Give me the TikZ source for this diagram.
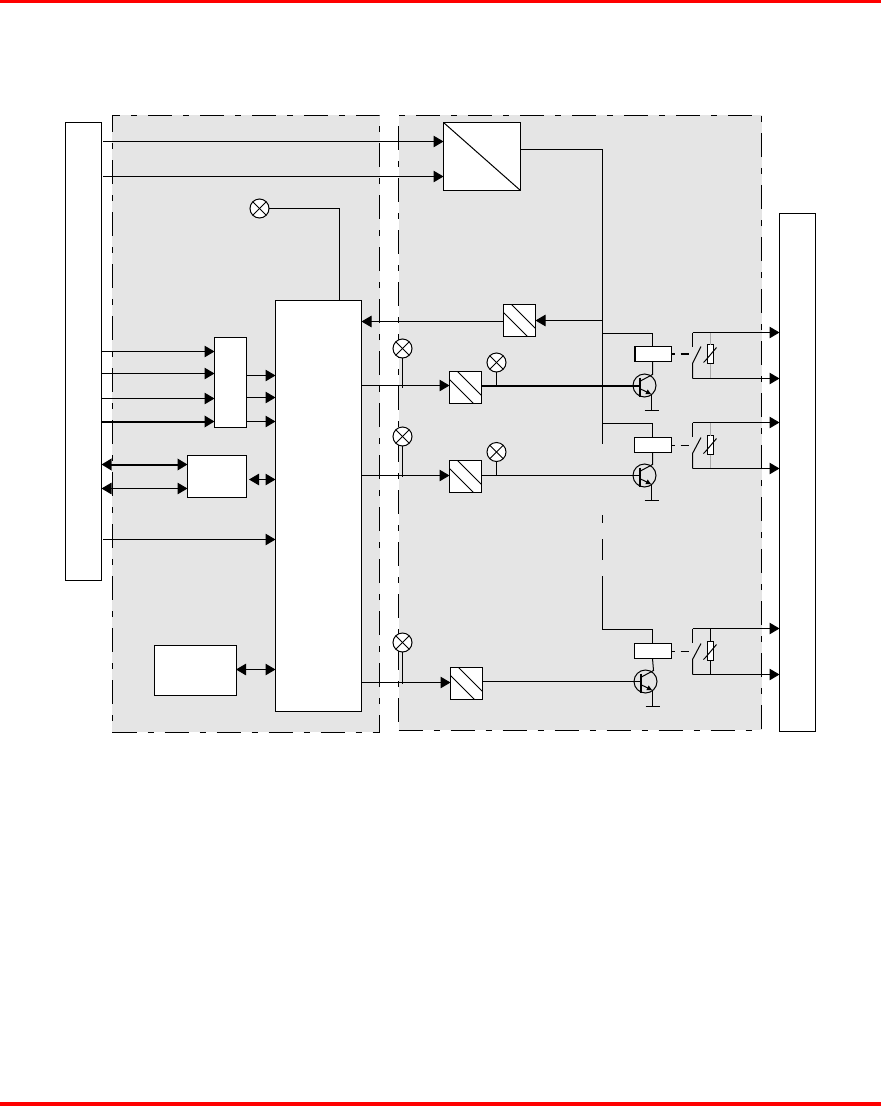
\documentclass[tikz,border=0pt]{standalone}
\usepackage{tikz}
\usetikzlibrary{positioning,arrows.meta,calc}
\definecolor{Band}{RGB}{255,0,0}
\definecolor{Zone}{RGB}{229,229,229}
\definecolor{Tap}{RGB}{170,170,170}

\begin{document}
\begin{tikzpicture}[x=1bp,y=-1bp,line width=1bp,
  zonebox/.style={draw,fill=Zone,inner sep=0pt,outer sep=0pt,dash pattern=on 24bp off 11bp on 6bp off 11bp},
  blockbox/.style={draw,fill=white,inner sep=0pt,outer sep=0pt},
  convbox/.style={blockbox,minimum width=32bp,minimum height=32bp,path picture={
    \draw ([yshift=-8bp]path picture bounding box.north west)--([xshift=-8bp]path picture bounding box.south east);
    \draw ([xshift=8bp]path picture bounding box.north west)--([yshift=8bp]path picture bounding box.south east);}},
  lamp/.style={circle,draw,fill=white,inner sep=0pt,outer sep=0pt,minimum size=19bp,path picture={
    \draw (path picture bounding box.north west)--(path picture bounding box.south east);
    \draw (path picture bounding box.north east)--(path picture bounding box.south west);}},
  arr/.style={-{Triangle[length=10bp,width=11.5bp]}},
  darr/.style={{Triangle[length=10bp,width=11.5bp]}-{Triangle[length=10bp,width=11.5bp]}}]
\useasboundingbox (0,0) rectangle (881,1106);
\fill[Band] (0,0) rectangle (881,3);
\fill[Band] (0,1102) rectangle (881,1106);
\node[zonebox,minimum width=267bp,minimum height=617bp] (zonea) at (246,423.5) {};
\node[zonebox,minimum width=363bp,minimum height=615bp] (zoneb) at (580,422.5) {};
\node[blockbox,minimum width=36bp,minimum height=458bp] (ctrl) at (83.5,351.5) {};
\node[blockbox,minimum width=36bp,minimum height=518bp] (outs) at (797.5,472.5) {};
\node[blockbox,minimum width=77bp,minimum height=68bp,path picture={
  \draw (path picture bounding box.north west)--(path picture bounding box.south east);}] (psu) at (482,156.5) {};
\node[blockbox,minimum width=86bp,minimum height=411bp] (main) at (318.5,506) {};
\node[blockbox,minimum width=32bp,minimum height=90bp] (mux) at (230.5,382.5) {};
\node[blockbox,minimum width=59bp,minimum height=42bp] (iface) at (217,476.5) {};
\node[blockbox,minimum width=81.5bp,minimum height=50bp] (mem) at (195.25,670.5) {};
\node[convbox] (fb) at (519.5,320.5) {};
\node[convbox] (conva) at (465.5,387.5) {};
\node[convbox] (convb) at (465.5,476.5) {};
\node[convbox] (convc) at (466.5,683.5) {};
\node[lamp] (lampz) at (259.5,208.5) {};
\node[lamp] (lampa) at (402.5,348.5) {};
\node[lamp] (lampb) at (402.5,436.5) {};
\node[lamp] (lampc) at (402.5,642.5) {};
\node[lamp] (lampd) at (496.5,362.5) {};
\node[lamp] (lampe) at (496.5,452) {};
\coordinate (bus) at (602.5,320.5);
\foreach \y in {141.5,176.5} \draw[arr,shorten <=1.5bp] (ctrl.east|-0,\y)--(psu.west|-0,\y);
\foreach \y in {351.5,373.5,398.5} \draw[arr] (ctrl.east|-0,\y)--(mux.west|-0,\y);
\draw[arr,line width=2bp] (ctrl.east|-0,421.5)--(mux.west|-0,421.5);
\foreach \y in {375.5,397.5,421.5} \draw[arr] (mux.east|-0,\y)--(main.west|-0,\y);
\draw[darr,line width=2bp] (ctrl.east|-0,464.5)--(iface.west|-0,464.5);
\draw[darr] (ctrl.east|-0,488.5)--(iface.west|-0,488.5);
\draw[darr,shorten <=2.5bp] (iface.east|-0,479.5)--(main.west|-0,479.5);
\draw[arr,shorten <=1.5bp] (ctrl.east|-0,539.5)--(main.west|-0,539.5);
\draw[darr] (mem.east|-0,669.5)--(main.west|-0,669.5);
\draw (lampz.east)-|([xshift=21bp]main.north);
\draw (psu.east|-0,149.5)-|(bus|-0,444);
\draw (bus|-0,515)--(bus|-0,523);
\draw (bus|-0,539)--(bus|-0,560);
\draw (bus|-0,576)--(bus|-0,630);
\draw[arr] (bus)--(fb.east);
\draw[arr] (fb.west|-0,321.5)--(main.east|-0,321.5);
\foreach \conv/\y in {conva/385.5,convb/475.5,convc/682.5} \draw[arr] (main.east|-0,\y)--(\conv.west|-0,\y);
\draw (lampa.south)--(lampa.south|-0,388);
\draw (lampb.south)--(lampb.south|-0,477);
\draw (lampc.south)--(lampc.south|-0,684);
\draw (lampd.south)--(lampd.south|-0,385.5);
\draw (lampe.south)--(lampe.south|-0,475.5);
\foreach \n/\conv/\qx/\qy/\ry/\ty/\wid/\tapcol in {1/conva/644.5/385.5/354/332.5/2bp/Tap,2/convb/644.5/475.5/445/422.5/1bp/Tap,3/convc/645.5/681.5/651/628.5/1bp/black}{
  \node[circle,draw,inner sep=0pt,outer sep=0pt,minimum size=23bp] (q\n) at (\qx,\qy) {};
  \node[blockbox,minimum width=37bp,minimum height=15bp] (rly\n) at (653,\ry) {};
  \node[blockbox,minimum width=6.5bp,minimum height=19bp] (var\n) at (710.5,\ry) {};
  \coordinate (swt\n) at (692.5,\ty);
  \coordinate (swb\n) at (692.5,\ty+46);
  \draw (bus|-0,\ty+1)-|([xshift=-.5bp]rly\n.north);
  \draw[line width=\wid] (\conv.east|-0,\qy)--([xshift=-5bp]q\n.center);
  \draw[line width=2bp] ([shift={(-5,-8)}]q\n.center)--([shift={(-5,11)}]q\n.center);
  \draw ([xshift=-.5bp]rly\n.south)--([shift={(8,-11)}]q\n.center)--([shift={(-5,-4)}]q\n.center);
  \draw[-{Triangle[length=5bp,width=5bp]}] ([shift={(-5,3)}]q\n.center)--([shift={(6.5,8.5)}]q\n.center);
  \draw ([shift={(7,8)}]q\n.center)--([shift={(7,24.5)}]q\n.center);
  \draw ([shift={(0,24.5)}]q\n.center)--([shift={(14.5,24.5)}]q\n.center);
  \draw[line width=\wid] (rly\n.north west)--(rly\n.south west);
  \draw[line width=\wid,dash pattern=on 3.5bp off 5.5bp on 8bp off 5.5bp on 4bp] (rly\n.east)--(rly\n.east-|swt\n);
  \draw[\tapcol] (var\n.north)--(var\n.north|-swt\n);
  \draw[\tapcol] (var\n.south)--(var\n.south|-swb\n);
  \draw[arr] (swt\n)--(outs.west|-swt\n);
  \draw[arr] (swb\n)--(outs.west|-swb\n);
  \draw (swt\n)--([shift={(0,14)}]swt\n);
  \draw (swb\n)--([shift={(0,-15)}]swb\n)--([shift={(8.5,0)}]swt\n|-rly\n.north);
  \draw ([shift={(-7,-1)}]var\n.south)--([shift={(-5,-3)}]var\n.south)--([shift={(6,3)}]var\n.north);
}
\end{tikzpicture}
\end{document}
